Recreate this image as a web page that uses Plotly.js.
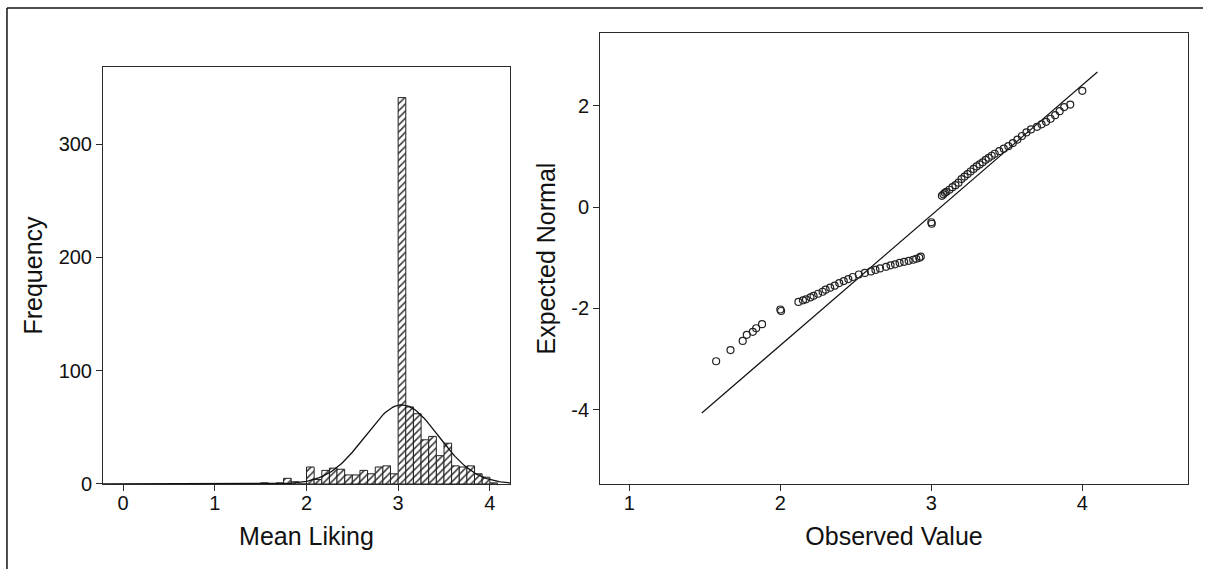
<!DOCTYPE html>
<html>
<head>
<meta charset="utf-8">
<script src="https://cdn.plot.ly/plotly-3.0.1.min.js"></script>
<style>html,body{margin:0;padding:0;background:#fff;}#chart{width:1208px;height:569px;}</style>
</head>
<body>
<div id="chart"></div>
<script>
// ---- Histogram data (Mean Liking) ----
const histBinLeft = [1.5, 1.583, 1.667, 1.75, 1.833, 1.917, 2.0, 2.083, 2.167, 2.25, 2.333, 2.417, 2.5, 2.583, 2.667, 2.75, 2.833, 2.917, 3.0, 3.083, 3.167, 3.25, 3.333, 3.417, 3.5, 3.583, 3.667, 3.75, 3.833, 3.917, 4.0];
const histCounts  = [1, 0, 1, 5, 2, 0, 15, 4, 12, 14, 13, 8, 8, 12, 9, 15, 16, 9, 341, 68, 62, 39, 42, 25, 36, 16, 15, 16, 9, 6, 1];
const histBinWidth = 1/12;
// fitted normal curve parameters
const normalMean = 3.04;
const normalSD = 0.40;
const normalN = 840;
const curveRange = [-0.22, 4.22];
const histXTicks = [0, 1, 2, 3, 4];
const histYTicks = [0, 100, 200, 300];

// ---- Q-Q plot data ----
const qqObserved = [1.575, 1.670, 1.751, 1.778, 1.818, 1.840, 1.879, 2.000, 2.005,
  2.12, 2.15, 2.17, 2.20, 2.22, 2.25, 2.28, 2.30, 2.33, 2.36, 2.39, 2.42, 2.45, 2.48, 2.52, 2.56, 2.60, 2.63, 2.66, 2.70, 2.73, 2.76, 2.79, 2.82, 2.85, 2.88, 2.90, 2.92, 2.93,
  3.000, 3.003,
  3.07, 3.08, 3.09, 3.10, 3.12, 3.14, 3.16, 3.18, 3.20, 3.22, 3.24, 3.26, 3.28, 3.30, 3.32, 3.34, 3.36, 3.38, 3.40, 3.42, 3.45, 3.48, 3.51, 3.54, 3.57, 3.60, 3.63, 3.66, 3.70, 3.73, 3.76, 3.79, 3.82, 3.85, 3.88, 3.92, 4.00];
const qqExpected = [-3.04, -2.82, -2.64, -2.52, -2.46, -2.39, -2.31, -2.02, -2.05,
  -1.87, -1.84, -1.82, -1.78, -1.75, -1.71, -1.67, -1.63, -1.59, -1.55, -1.50, -1.46, -1.42, -1.38, -1.33, -1.30, -1.27, -1.24, -1.21, -1.18, -1.15, -1.13, -1.10, -1.08, -1.06, -1.04, -1.02, -1.00, -0.98,
  -0.30, -0.33,
  0.22, 0.25, 0.28, 0.30, 0.34, 0.39, 0.43, 0.48, 0.55, 0.60, 0.65, 0.70, 0.75, 0.80, 0.84, 0.88, 0.93, 0.97, 1.01, 1.05, 1.10, 1.15, 1.20, 1.26, 1.33, 1.40, 1.47, 1.53, 1.58, 1.63, 1.68, 1.74, 1.81, 1.89, 1.97, 2.02, 2.29];
const qqLineX = [1.48, 4.10];
const qqLineY = [-4.06, 2.66];
const qqXTicks = [1, 2, 3, 4];
const qqYTicks = [-4, -2, 0, 2];
const qqYTickText = ['-4', '-2', '0', '2'];

// build normal curve from its parameters
const curveX = [], curveY = [];
for (let x = curveRange[0]; x <= curveRange[1] + 1e-9; x += 0.02) {
  const z = (x - normalMean) / normalSD;
  curveX.push(x);
  curveY.push(normalN * histBinWidth * Math.exp(-0.5 * z * z) / (normalSD * Math.sqrt(2 * Math.PI)));
}

const ink = '#2a2a2a';
const FONT = 'Liberation Sans, Arial, sans-serif';

const traces = [
  {
    type: 'bar', x: histBinLeft, y: histCounts, width: histBinWidth, offset: 0,
    xaxis: 'x', yaxis: 'y',
    marker: {color: '#ffffff', line: {color: '#222222', width: 1},
      pattern: {shape: '/', fgcolor: '#3a3a3a', bgcolor: '#ffffff', size: 5, solidity: 0.32}},
    hoverinfo: 'x+y', showlegend: false
  },
  {
    type: 'scatter', mode: 'lines', x: curveX, y: curveY, xaxis: 'x', yaxis: 'y',
    line: {color: '#111111', width: 1.3}, hoverinfo: 'skip', showlegend: false
  },
  {
    type: 'scatter', mode: 'lines', x: qqLineX, y: qqLineY, xaxis: 'x2', yaxis: 'y2',
    line: {color: '#111111', width: 1.2}, hoverinfo: 'skip', showlegend: false
  },
  {
    type: 'scatter', mode: 'markers', x: qqObserved, y: qqExpected, xaxis: 'x2', yaxis: 'y2',
    marker: {symbol: 'circle-open', size: 7, color: '#222222', line: {width: 1.2, color: '#222222'}},
    showlegend: false
  }
];

const axisCommon = {
  showgrid: false, zeroline: false, showline: true, mirror: true,
  linecolor: ink, linewidth: 1, ticks: 'outside', ticklen: 6, tickcolor: ink, tickwidth: 1,
  tickfont: {family: FONT, size: 20, color: '#111111'}
};
const titleFont = {family: FONT, size: 25, color: '#111111'};

const layout = {
  width: 1208, height: 569,
  margin: {l: 103, r: 20, t: 33, b: 85},
  paper_bgcolor: '#ffffff', plot_bgcolor: '#ffffff',
  bargap: 0,
  xaxis: Object.assign({}, axisCommon, {
    domain: [0, 0.3751], range: [-0.22, 4.22], tickvals: histXTicks, ticklabelstandoff: -5,
    title: {text: 'Mean Liking', font: titleFont, standoff: 14}, anchor: 'y'
  }),
  yaxis: Object.assign({}, axisCommon, {
    domain: [0, 0.9246], range: [0, 368], tickvals: histYTicks,
    title: {text: 'Frequency', font: titleFont, standoff: 8}, anchor: 'x'
  }),
  xaxis2: Object.assign({}, axisCommon, {
    domain: [0.4581, 1], range: [0.806, 4.70], tickvals: qqXTicks, ticklabelstandoff: -5,
    title: {text: 'Observed Value', font: titleFont, standoff: 14}, anchor: 'y2'
  }),
  yaxis2: Object.assign({}, axisCommon, {
    domain: [0, 1], range: [-5.46, 3.43], tickvals: qqYTicks, ticktext: qqYTickText,
    title: {text: 'Expected Normal', font: titleFont, standoff: 8}, anchor: 'x2'
  }),
  shapes: [
    {type: 'line', xref: 'paper', yref: 'paper', x0: -0.0885, x1: 1.0138, y0: 1.0554, y1: 1.0554, line: {color: '#111111', width: 1.5}},
    {type: 'line', xref: 'paper', yref: 'paper', x0: -0.0885, x1: -0.0885, y0: 1.0554, y1: -0.2, line: {color: '#111111', width: 1.5}}
  ]
};

Plotly.newPlot('chart', traces, layout, {displayModeBar: false, staticPlot: true});
</script>
</body>
</html>
